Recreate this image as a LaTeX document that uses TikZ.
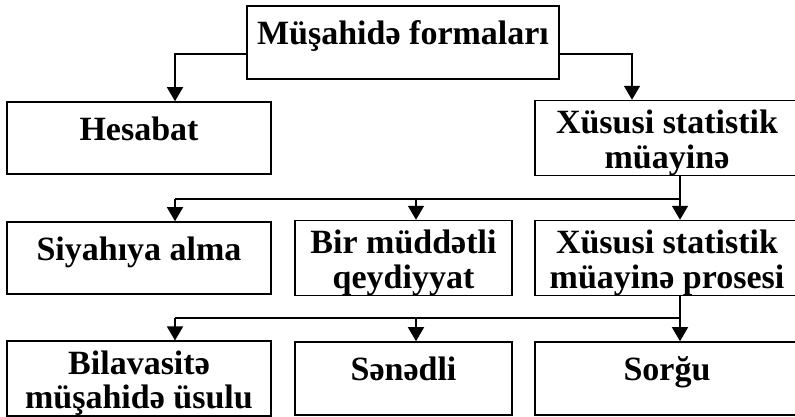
\documentclass[tikz,border=0pt]{standalone}
\usepackage{fontspec}
\setmainfont{Liberation Serif}
\usetikzlibrary{arrows.meta}
\newcommand{\strutup}{\rule{0pt}{33pt}}
\begin{document}
\begin{tikzpicture}[x=1pt,y=-1pt,
  box/.style={draw, line width=1.6pt, rectangle, inner sep=0pt, align=center,
    font=\fontsize{34}{34.5}\selectfont\bfseries},
  one/.style={text height=10pt, text depth=6pt},
  arr/.style={line width=1.6pt, -{Triangle[width=16pt,length=14pt]}},
  ln/.style={line width=1.6pt}]
\useasboundingbox (0,0) rectangle (795,416);
\fill[white] (0,0) rectangle (795,416);
\node[box, one, minimum width=312pt, minimum height=73pt] (top) at (403,42.5) {Müşahidə formaları};
\node[box, one, minimum width=264pt, minimum height=72pt] (hes) at (139,138) {Hesabat};
\node[box, minimum width=264pt, minimum height=72pt] (xus1) at (667,138) {\strutup Xüsusi statistik\\müayinə};
\node[box, one, minimum width=264pt, minimum height=72pt] (siy) at (139,258) {Siyahıya alma};
\node[box, minimum width=217pt, minimum height=72pt] (bir) at (403.5,258) {\strutup Bir müddətli\\qeydiyyat};
\node[box, minimum width=264pt, minimum height=72pt] (xus2) at (667,258) {\strutup Xüsusi statistik\\müayinə prosesi};
\node[box, minimum width=264pt, minimum height=73pt] (bil) at (139,378.5) {\strutup Bilavasitə\\müşahidə üsulu};
\node[box, one, minimum width=217pt, minimum height=73pt] (sen) at (403.5,378.5) {Sənədli};
\node[box, one, minimum width=264pt, minimum height=73pt] (sor) at (667,378.5) {Sorğu};
% level 1
\draw[arr] ([yshift=-11.5pt]top.west) -| ([xshift=36pt]hes.north);
\draw[arr] ([yshift=-11.5pt]top.east) -| ([xshift=-35pt]xus1.north);
% level 2
\coordinate (b1) at (175,199);
\coordinate (b1m) at (416,199);
\draw[ln] ([xshift=13pt]xus1.south) |- (b1);
\draw[arr] (b1) -- ([xshift=36pt]siy.north);
\draw[arr] (b1m) -- ([xshift=12.5pt]bir.north);
\draw[arr] ([xshift=13pt]xus1.south) -- ([xshift=13pt]xus2.north);
% level 3
\coordinate (b2) at (175,318);
\coordinate (b2m) at (416,318);
\draw[ln] ([xshift=13pt]xus2.south) |- (b2);
\draw[arr] (b2) -- ([xshift=36pt]bil.north);
\draw[arr] (b2m) -- ([xshift=12.5pt]sen.north);
\draw[arr] ([xshift=13pt]xus2.south) -- ([xshift=13pt]sor.north);
\end{tikzpicture}
\end{document}
